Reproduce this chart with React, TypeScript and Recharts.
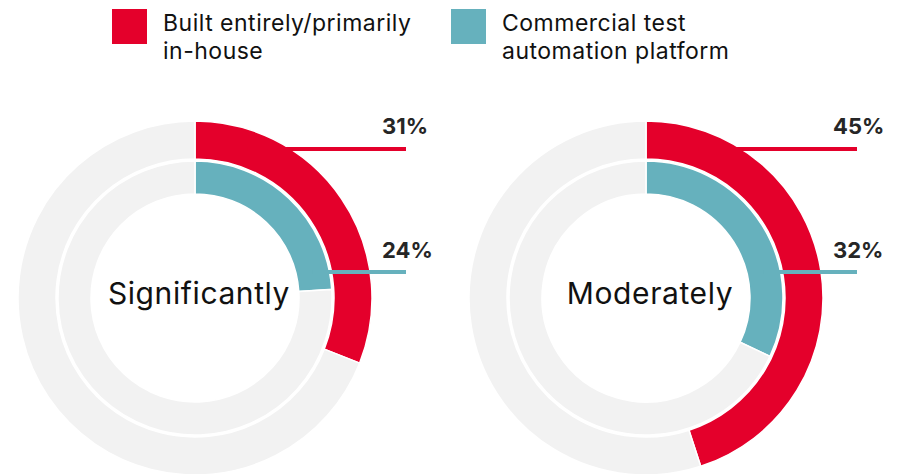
import React from 'react';
import { PieChart, Pie, Cell } from 'recharts';

const groups = ['Significantly', 'Moderately'];
const inHouse = [31, 45];
const commercial = [24, 32];
const seriesNames = ['Built entirely/primarily\nin-house', 'Commercial test\nautomation platform'];

const RED = '#E4002B';
const TEAL = '#66B1BD';
const GRAY = '#F2F2F2';
const FONT = 'Inter, Roboto, sans-serif';

const centers = [195, 646];
const CY = 298;

const toRing = (v: number) => [
  { name: 'value', value: v },
  { name: 'rest', value: 100 - v },
];

// leader line + percentage, fixed row per ring
const makeLabel = (dy: number, textDy: number, color: string, ringMid: number) => (props: any) => {
  if (props.index !== 0) return null;
  const { cx, cy, value } = props;
  const y = cy + dy;
  const x0 = cx + Math.sqrt(ringMid * ringMid - dy * dy);
  return (
    <g>
      <line x1={x0} y1={y} x2={cx + 211} y2={y} stroke={color} strokeWidth={4} />
      <text x={cx + 187} y={cy + textDy} textAnchor="start" fontFamily={FONT} fontWeight={700} fontSize={22} fill="#262626">
        {value}%
      </text>
    </g>
  );
};

const redLabel = makeLabel(-149, -164, RED, 158);
const tealLabel = makeLabel(-26, -40, TEAL, 120);

const LegendItem = ({ color, text, left }: { color: string; text: string; left: number }) => (
  <div style={{ position: 'absolute', left, top: 9, display: 'flex' }}>
    <div style={{ width: 35, height: 35, background: color }} />
    <div style={{ marginLeft: 16, marginTop: 0, fontFamily: FONT, fontSize: 23, letterSpacing: 0.5, lineHeight: '28px', color: '#111', whiteSpace: 'pre' }}>
      {text}
    </div>
  </div>
);

export default function App() {
  return (
    <div style={{ position: 'absolute', left: 0, top: 0, width: 900, height: 474, background: '#fff', overflow: 'hidden' }}>
      <LegendItem color={RED} text={seriesNames[0]} left={112} />
      <LegendItem color={TEAL} text={seriesNames[1]} left={451} />
      <div style={{ position: 'absolute', left: 0, top: 0 }}>
        <PieChart width={900} height={474} margin={{ top: 0, right: 0, bottom: 0, left: 0 }}>
          {groups.map((g, i) => (
            <Pie
              key={g + '-out'}
              data={toRing(inHouse[i])}
              dataKey="value"
              cx={centers[i]}
              cy={CY}
              innerRadius={139}
              outerRadius={177}
              startAngle={90}
              endAngle={-270}
              stroke="#fff"
              strokeWidth={1.5}
              label={redLabel}
              labelLine={false}
              isAnimationActive={false}
            >
              <Cell fill={RED} />
              <Cell fill={GRAY} />
            </Pie>
          ))}
          {groups.map((g, i) => (
            <Pie
              key={g + '-in'}
              data={toRing(commercial[i])}
              dataKey="value"
              cx={centers[i]}
              cy={CY}
              innerRadius={104}
              outerRadius={137}
              startAngle={90}
              endAngle={-270}
              stroke="#fff"
              strokeWidth={1.5}
              label={tealLabel}
              labelLine={false}
              isAnimationActive={false}
            >
              <Cell fill={TEAL} />
              <Cell fill={GRAY} />
            </Pie>
          ))}
          {groups.map((g, i) => (
            <text key={g} x={centers[i] + 4} y={CY + 6} textAnchor="middle" fontFamily={FONT} fontSize={30} letterSpacing={0.6} fill="#111">
              {g}
            </text>
          ))}
        </PieChart>
      </div>
    </div>
  );
}
